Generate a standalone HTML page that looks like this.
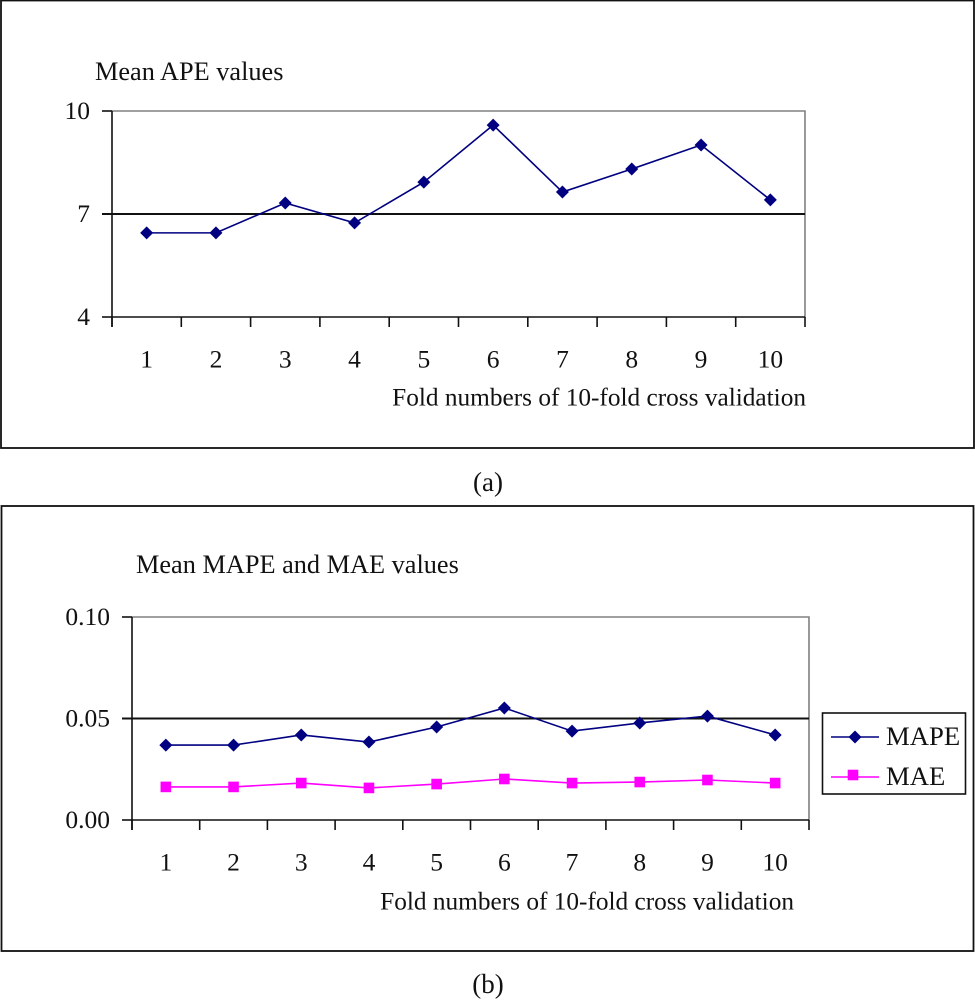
<!DOCTYPE html>
<html>
<head>
<meta charset="utf-8">
<style>
html,body{margin:0;padding:0;background:#fff;}
svg{display:block;}
text{font-family:"Liberation Serif",serif;font-size:25.5px;fill:#111;}
</style>
</head>
<body>
<svg id="fig" width="975" height="1000" viewBox="0 0 975 1000" xmlns="http://www.w3.org/2000/svg"></svg>
<script>
const folds = ['1','2','3','4','5','6','7','8','9','10'];
const apeValues = [6.45,6.45,7.32,6.74,7.93,9.59,7.64,8.31,9.01,7.41];
const apeTicks = [4,7,10];
const mapeValues = [0.0369,0.0369,0.0419,0.0384,0.0458,0.0552,0.0438,0.0478,0.0512,0.0419];
const maeValues = [0.0163,0.0163,0.0182,0.0158,0.0177,0.0202,0.0182,0.0187,0.0197,0.0182];
const errTicks = [0,0.05,0.10];
const errTickLabels = ['0.00','0.05','0.10'];

const NS = 'http://www.w3.org/2000/svg';
const svg = document.getElementById('fig');
function mk(tag, attrs, parent, txt){
  const e = document.createElementNS(NS, tag);
  for (const k in attrs) e.setAttribute(k, attrs[k]);
  if (txt !== undefined) e.textContent = txt;
  (parent || svg).appendChild(e);
  return e;
}
function diamond(x,y,r,parent){
  const d = mk('polygon',{points:`${x-r},${y} ${x},${y-r} ${x+r},${y} ${x},${y+r}`,fill:'#000080'},parent);
  
  
  return d;
}
function square(x,y,r,parent){
  const s = mk('rect',{x:x-r,y:y-r,width:2*r,height:2*r,fill:'#ff00ff'},parent);
  
  
  return s;
}
function drawPlot(cfg){
  const g = mk('g',{});
  
  
  const {l,r,t,b,min,max} = cfg;
  const band = (r-l)/folds.length;
  const X = i => l + band*(i+0.5);
  const Y = v => b - (v-min)/(max-min)*(b-t);
  // gray top and right plot edges
  const edge = mk('path',{d:`M${l} ${t}H${r}V${b}`,fill:'none',stroke:'#808080','stroke-width':1.6},g);
  
  
  // y axis, ticks, gridlines
  const yAxis = mk('line',{x1:l,y1:t,x2:l,y2:b+10,stroke:'#111','stroke-width':1.6},g);
  
  
  cfg.ticks.forEach((v,i)=>{
    const y = Y(v);
    const isGrid = i === 1;
    const tk = mk('line',{x1:l-10,y1:y,x2:isGrid? r : l,y2:y,stroke:'#111','stroke-width':isGrid?2:1.6},g);
    
    
    const lb = mk('text',{x:l-22,y:y+8,'text-anchor':'end'},g,cfg.labels[i]);
    
    
  });
  // x axis, ticks
  const xAxis = mk('line',{x1:l,y1:b,x2:r,y2:b,stroke:'#111','stroke-width':1.6},g);
  
  
  for (let i=0;i<=folds.length;i++){
    const x = l + band*i;
    const tk = mk('line',{x1:x,y1:b,x2:x,y2:b+10,stroke:'#111','stroke-width':1.6},g);
    
    
  }
  folds.forEach((f,i)=>{
    const lb = mk('text',{x:X(i),y:b+50.5,'text-anchor':'middle'},g,f);
    
    
  });
  // series
  cfg.series.forEach(s=>{
    const pl = mk('polyline',{points:s.values.map((v,i)=>X(i)+','+Y(v)).join(' '),fill:'none',stroke:s.color,'stroke-width':1.6},g);
    
    
    s.values.forEach((v,i)=>s.marker(X(i),Y(v),s.r,g));
  });
}

// Panel (a)
const frameA = mk('rect',{x:1,y:0.5,width:973,height:447.5,fill:'none',stroke:'#111','stroke-width':1.8});


const titleA = mk('text',{x:95,y:80,style:'font-size:26.3px'},svg,'Mean APE values');


drawPlot({name:'panel-a-chart',l:112,r:805,t:111,b:317,min:4,max:10,ticks:apeTicks,labels:apeTicks.map(String),
  series:[{name:'ape-line',values:apeValues,color:'#000080',marker:diamond,r:6.5}]});
const xTitleA = mk('text',{x:806,y:405.5,'text-anchor':'end',style:'font-size:25.3px'},svg,'Fold numbers of 10-fold cross validation');


const capA = mk('text',{x:488,y:491,'text-anchor':'middle',style:'font-size:27px'},svg,'(a)');



// Panel (b)
const frameB = mk('rect',{x:1.5,y:506,width:972,height:445,fill:'none',stroke:'#111','stroke-width':1.8});


const titleB = mk('text',{x:136,y:573,style:'font-size:26.3px'},svg,'Mean MAPE and MAE values');


drawPlot({name:'panel-b-chart',l:132,r:809,t:617,b:820,min:0,max:0.10,ticks:errTicks,labels:errTickLabels,
  series:[
    {name:'mape-line',values:mapeValues,color:'#000080',marker:diamond,r:6.5},
    {name:'mae-line',values:maeValues,color:'#ff00ff',marker:square,r:5.3}
  ]});
const xTitleB = mk('text',{x:794,y:909.5,'text-anchor':'end',style:'font-size:25.3px'},svg,'Fold numbers of 10-fold cross validation');


const capB = mk('text',{x:488,y:993,'text-anchor':'middle',style:'font-size:27px'},svg,'(b)');



// Legend
const lg = mk('g',{});


const lgBox = mk('rect',{x:822.5,y:713,width:143,height:81,fill:'#fff',stroke:'#111','stroke-width':1.6},lg);


const lgL1 = mk('line',{x1:831,y1:737,x2:879,y2:737,stroke:'#000080','stroke-width':1.6},lg);


diamond(855,737,6.5,lg);
const lgT1 = mk('text',{x:886,y:745,style:'font-size:26.7px'},lg,'MAPE');


const lgL2 = mk('line',{x1:831,y1:777,x2:879,y2:777,stroke:'#ff00ff','stroke-width':1.6},lg);


square(853,775,5.3,lg);
const lgT2 = mk('text',{x:886,y:785,style:'font-size:26.7px'},lg,'MAE');


</script>
</body>
</html>
